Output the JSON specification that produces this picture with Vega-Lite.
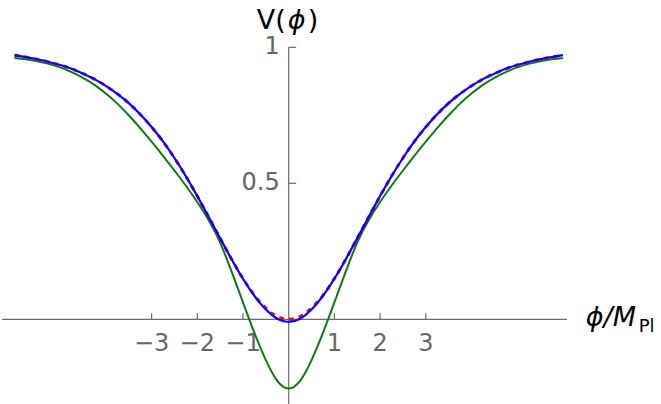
{
  "$schema": "https://vega.github.io/schema/vega-lite/v6.json",
  "width": 661,
  "height": 404,
  "autosize": {"type": "none"},
  "padding": 0,
  "background": "white",
  "config": {"view": {"stroke": null}, "text": {"font": "DejaVu Sans"}},
  "datasets": {
    "one": [{}],
    "curves": [
      {"p": -6, "v": 0.971, "s": "exact"}, {"p": -5.75, "v": 0.964, "s": "exact"}, {"p": -5.5, "v": 0.956, "s": "exact"}, {"p": -5.25, "v": 0.946, "s": "exact"}, {"p": -5, "v": 0.935, "s": "exact"}, {"p": -4.75, "v": 0.921, "s": "exact"}, {"p": -4.5, "v": 0.903, "s": "exact"}, {"p": -4.25, "v": 0.883, "s": "exact"}, {"p": -4, "v": 0.858, "s": "exact"}, {"p": -3.75, "v": 0.829, "s": "exact"}, {"p": -3.5, "v": 0.795, "s": "exact"}, {"p": -3.25, "v": 0.754, "s": "exact"}, {"p": -3, "v": 0.707, "s": "exact"}, {"p": -2.75, "v": 0.654, "s": "exact"}, {"p": -2.5, "v": 0.593, "s": "exact"}, {"p": -2.25, "v": 0.526, "s": "exact"}, {"p": -2, "v": 0.453, "s": "exact"}, {"p": -1.75, "v": 0.376, "s": "exact"}, {"p": -1.5, "v": 0.298, "s": "exact"}, {"p": -1.25, "v": 0.221, "s": "exact"}, {"p": -1, "v": 0.150, "s": "exact"}, {"p": -0.75, "v": 0.088, "s": "exact"}, {"p": -0.5, "v": 0.041, "s": "exact"}, {"p": -0.25, "v": 0.010, "s": "exact"}, {"p": 0, "v": 0.0, "s": "exact"},
      {"p": 0.25, "v": 0.010, "s": "exact"}, {"p": 0.5, "v": 0.041, "s": "exact"}, {"p": 0.75, "v": 0.088, "s": "exact"}, {"p": 1, "v": 0.150, "s": "exact"}, {"p": 1.25, "v": 0.221, "s": "exact"}, {"p": 1.5, "v": 0.298, "s": "exact"}, {"p": 1.75, "v": 0.376, "s": "exact"}, {"p": 2, "v": 0.453, "s": "exact"}, {"p": 2.25, "v": 0.526, "s": "exact"}, {"p": 2.5, "v": 0.593, "s": "exact"}, {"p": 2.75, "v": 0.654, "s": "exact"}, {"p": 3, "v": 0.707, "s": "exact"}, {"p": 3.25, "v": 0.754, "s": "exact"}, {"p": 3.5, "v": 0.795, "s": "exact"}, {"p": 3.75, "v": 0.829, "s": "exact"}, {"p": 4, "v": 0.858, "s": "exact"}, {"p": 4.25, "v": 0.883, "s": "exact"}, {"p": 4.5, "v": 0.903, "s": "exact"}, {"p": 4.75, "v": 0.921, "s": "exact"}, {"p": 5, "v": 0.935, "s": "exact"}, {"p": 5.25, "v": 0.946, "s": "exact"}, {"p": 5.5, "v": 0.956, "s": "exact"}, {"p": 5.75, "v": 0.964, "s": "exact"}, {"p": 6, "v": 0.971, "s": "exact"},

      {"p": -6, "v": 0.971, "s": "fit"}, {"p": -5.75, "v": 0.964, "s": "fit"}, {"p": -5.5, "v": 0.956, "s": "fit"}, {"p": -5.25, "v": 0.946, "s": "fit"}, {"p": -5, "v": 0.935, "s": "fit"}, {"p": -4.75, "v": 0.921, "s": "fit"}, {"p": -4.5, "v": 0.903, "s": "fit"}, {"p": -4.25, "v": 0.883, "s": "fit"}, {"p": -4, "v": 0.858, "s": "fit"}, {"p": -3.75, "v": 0.829, "s": "fit"}, {"p": -3.5, "v": 0.795, "s": "fit"}, {"p": -3.25, "v": 0.754, "s": "fit"}, {"p": -3, "v": 0.707, "s": "fit"}, {"p": -2.75, "v": 0.654, "s": "fit"}, {"p": -2.5, "v": 0.593, "s": "fit"}, {"p": -2.25, "v": 0.526, "s": "fit"}, {"p": -2, "v": 0.453, "s": "fit"}, {"p": -1.75, "v": 0.376, "s": "fit"}, {"p": -1.5, "v": 0.298, "s": "fit"}, {"p": -1.25, "v": 0.221, "s": "fit"}, {"p": -1, "v": 0.149, "s": "fit"}, {"p": -0.75, "v": 0.086, "s": "fit"}, {"p": -0.5, "v": 0.036, "s": "fit"}, {"p": -0.25, "v": 0.002, "s": "fit"}, {"p": 0, "v": -0.010, "s": "fit"},
      {"p": 0.25, "v": 0.002, "s": "fit"}, {"p": 0.5, "v": 0.036, "s": "fit"}, {"p": 0.75, "v": 0.086, "s": "fit"}, {"p": 1, "v": 0.149, "s": "fit"}, {"p": 1.25, "v": 0.221, "s": "fit"}, {"p": 1.5, "v": 0.298, "s": "fit"}, {"p": 1.75, "v": 0.376, "s": "fit"}, {"p": 2, "v": 0.453, "s": "fit"}, {"p": 2.25, "v": 0.526, "s": "fit"}, {"p": 2.5, "v": 0.593, "s": "fit"}, {"p": 2.75, "v": 0.654, "s": "fit"}, {"p": 3, "v": 0.707, "s": "fit"}, {"p": 3.25, "v": 0.754, "s": "fit"}, {"p": 3.5, "v": 0.795, "s": "fit"}, {"p": 3.75, "v": 0.829, "s": "fit"}, {"p": 4, "v": 0.858, "s": "fit"}, {"p": 4.25, "v": 0.883, "s": "fit"}, {"p": 4.5, "v": 0.903, "s": "fit"}, {"p": 4.75, "v": 0.921, "s": "fit"}, {"p": 5, "v": 0.935, "s": "fit"}, {"p": 5.25, "v": 0.946, "s": "fit"}, {"p": 5.5, "v": 0.956, "s": "fit"}, {"p": 5.75, "v": 0.964, "s": "fit"}, {"p": 6, "v": 0.971, "s": "fit"},

      {"p": -6, "v": 0.961, "s": "expansion"}, {"p": -5.75, "v": 0.956, "s": "expansion"}, {"p": -5.5, "v": 0.949, "s": "expansion"}, {"p": -5.25, "v": 0.939, "s": "expansion"}, {"p": -5, "v": 0.926, "s": "expansion"}, {"p": -4.75, "v": 0.909, "s": "expansion"}, {"p": -4.5, "v": 0.888, "s": "expansion"}, {"p": -4.25, "v": 0.862, "s": "expansion"}, {"p": -4, "v": 0.830, "s": "expansion"}, {"p": -3.75, "v": 0.793, "s": "expansion"}, {"p": -3.5, "v": 0.750, "s": "expansion"}, {"p": -3.25, "v": 0.703, "s": "expansion"}, {"p": -3, "v": 0.653, "s": "expansion"}, {"p": -2.75, "v": 0.601, "s": "expansion"}, {"p": -2.5, "v": 0.547, "s": "expansion"}, {"p": -2.25, "v": 0.491, "s": "expansion"}, {"p": -2, "v": 0.431, "s": "expansion"}, {"p": -1.75, "v": 0.364, "s": "expansion"}, {"p": -1.5, "v": 0.282, "s": "expansion"}, {"p": -1.25, "v": 0.176, "s": "expansion"}, {"p": -1, "v": 0.062, "s": "expansion"}, {"p": -0.75, "v": -0.050, "s": "expansion"}, {"p": -0.5, "v": -0.150, "s": "expansion"}, {"p": -0.25, "v": -0.226, "s": "expansion"}, {"p": 0, "v": -0.254, "s": "expansion"},
      {"p": 0.25, "v": -0.226, "s": "expansion"}, {"p": 0.5, "v": -0.150, "s": "expansion"}, {"p": 0.75, "v": -0.050, "s": "expansion"}, {"p": 1, "v": 0.062, "s": "expansion"}, {"p": 1.25, "v": 0.176, "s": "expansion"}, {"p": 1.5, "v": 0.282, "s": "expansion"}, {"p": 1.75, "v": 0.364, "s": "expansion"}, {"p": 2, "v": 0.431, "s": "expansion"}, {"p": 2.25, "v": 0.491, "s": "expansion"}, {"p": 2.5, "v": 0.547, "s": "expansion"}, {"p": 2.75, "v": 0.601, "s": "expansion"}, {"p": 3, "v": 0.653, "s": "expansion"}, {"p": 3.25, "v": 0.703, "s": "expansion"}, {"p": 3.5, "v": 0.750, "s": "expansion"}, {"p": 3.75, "v": 0.793, "s": "expansion"}, {"p": 4, "v": 0.830, "s": "expansion"}, {"p": 4.25, "v": 0.862, "s": "expansion"}, {"p": 4.5, "v": 0.888, "s": "expansion"}, {"p": 4.75, "v": 0.909, "s": "expansion"}, {"p": 5, "v": 0.926, "s": "expansion"}, {"p": 5.25, "v": 0.939, "s": "expansion"}, {"p": 5.5, "v": 0.949, "s": "expansion"}, {"p": 5.75, "v": 0.956, "s": "expansion"}, {"p": 6, "v": 0.961, "s": "expansion"}
    ],
    "xticks": [
      {"t": -3, "label": "−3"}, {"t": -2, "label": "−2"}, {"t": -1, "label": "−1"},
      {"t": 1, "label": "1"}, {"t": 2, "label": "2"}, {"t": 3, "label": "3"}
    ],
    "yticks": [{"t": 0.5, "label": "0.5"}, {"t": 1, "label": "1"}]
  },
  "layer": [
    {
      "data": {"name": "one"},
      "mark": {"type": "rule", "color": "#6b6b6b", "strokeWidth": 1.2},
      "encoding": {
        "x": {"datum": -6.27, "type": "quantitative", "scale": {"domain": [-6.317, 8.147], "nice": false, "zero": false}, "axis": null},
        "x2": {"datum": 6.09},
        "y": {"datum": 0, "type": "quantitative", "scale": {"domain": [-0.3114, 1.1739], "nice": false, "zero": false}, "axis": null}
      }
    },
    {
      "data": {"name": "one"},
      "mark": {"type": "rule", "color": "#6b6b6b", "strokeWidth": 1.2},
      "encoding": {
        "x": {"datum": 0, "type": "quantitative", "scale": {"domain": [-6.317, 8.147], "nice": false, "zero": false}, "axis": null},
        "y": {"datum": -0.32, "type": "quantitative", "scale": {"domain": [-0.3114, 1.1739], "nice": false, "zero": false}, "axis": null},
        "y2": {"datum": 1.0}
      }
    },
    {
      "data": {"name": "xticks"},
      "mark": {"type": "rule", "color": "#6b6b6b", "strokeWidth": 1.2},
      "encoding": {
        "x": {"field": "t", "type": "quantitative", "scale": {"domain": [-6.317, 8.147], "nice": false, "zero": false}, "axis": null},
        "y": {"datum": 0, "type": "quantitative", "scale": {"domain": [-0.3114, 1.1739], "nice": false, "zero": false}, "axis": null},
        "y2": {"datum": 0.022}
      }
    },
    {
      "data": {"name": "xticks"},
      "mark": {"type": "text", "color": "#666666", "fontSize": 24, "align": "center", "baseline": "alphabetic", "dy": 32},
      "encoding": {
        "x": {"field": "t", "type": "quantitative", "scale": {"domain": [-6.317, 8.147], "nice": false, "zero": false}, "axis": null},
        "y": {"datum": 0, "type": "quantitative", "scale": {"domain": [-0.3114, 1.1739], "nice": false, "zero": false}, "axis": null},
        "text": {"field": "label"}
      }
    },
    {
      "data": {"name": "yticks"},
      "mark": {"type": "rule", "color": "#6b6b6b", "strokeWidth": 1.2},
      "encoding": {
        "x": {"datum": 0, "type": "quantitative", "scale": {"domain": [-6.317, 8.147], "nice": false, "zero": false}, "axis": null},
        "x2": {"datum": 0.165},
        "y": {"field": "t", "type": "quantitative", "scale": {"domain": [-0.3114, 1.1739], "nice": false, "zero": false}, "axis": null}
      }
    },
    {
      "data": {"name": "yticks"},
      "mark": {"type": "text", "color": "#666666", "fontSize": 24, "align": "right", "baseline": "middle", "dx": -9},
      "encoding": {
        "x": {"datum": 0, "type": "quantitative", "scale": {"domain": [-6.317, 8.147], "nice": false, "zero": false}, "axis": null},
        "y": {"field": "t", "type": "quantitative", "scale": {"domain": [-0.3114, 1.1739], "nice": false, "zero": false}, "axis": null},
        "text": {"field": "label"}
      }
    },
    {
      "data": {"name": "curves"},
      "transform": [{"filter": "datum.s === 'expansion'"}],
      "mark": {"type": "line", "color": "#0f7a0f", "strokeWidth": 2, "interpolate": "natural"},
      "encoding": {
        "x": {"field": "p", "type": "quantitative", "scale": {"domain": [-6.317, 8.147], "nice": false, "zero": false}, "axis": null},
        "y": {"field": "v", "type": "quantitative", "scale": {"domain": [-0.3114, 1.1739], "nice": false, "zero": false}, "axis": null}
      }
    },
    {
      "data": {"name": "curves"},
      "transform": [{"filter": "datum.s === 'exact'"}],
      "mark": {"type": "line", "color": "#ff0000", "strokeWidth": 3, "strokeDash": [5, 5], "interpolate": "natural"},
      "encoding": {
        "x": {"field": "p", "type": "quantitative", "scale": {"domain": [-6.317, 8.147], "nice": false, "zero": false}, "axis": null},
        "y": {"field": "v", "type": "quantitative", "scale": {"domain": [-0.3114, 1.1739], "nice": false, "zero": false}, "axis": null}
      }
    },
    {
      "data": {"name": "curves"},
      "transform": [{"filter": "datum.s === 'fit'"}],
      "mark": {"type": "line", "color": "#0000ff", "strokeWidth": 2.2, "interpolate": "natural"},
      "encoding": {
        "x": {"field": "p", "type": "quantitative", "scale": {"domain": [-6.317, 8.147], "nice": false, "zero": false}, "axis": null},
        "y": {"field": "v", "type": "quantitative", "scale": {"domain": [-0.3114, 1.1739], "nice": false, "zero": false}, "axis": null}
      }
    },
    {
      "data": {"name": "one"},
      "mark": {"type": "text", "color": "#000000", "fontSize": 27, "align": "right", "baseline": "alphabetic", "dx": -3, "text": "V("},
      "encoding": {
        "x": {"datum": 0, "type": "quantitative", "scale": {"domain": [-6.317, 8.147], "nice": false, "zero": false}, "axis": null},
        "y": {"datum": 1.069, "type": "quantitative", "scale": {"domain": [-0.3114, 1.1739], "nice": false, "zero": false}, "axis": null}
      }
    },
    {
      "data": {"name": "one"},
      "mark": {"type": "text", "color": "#000000", "fontSize": 27, "fontStyle": "italic", "align": "center", "baseline": "alphabetic", "dx": 8, "text": "ϕ"},
      "encoding": {
        "x": {"datum": 0, "type": "quantitative", "scale": {"domain": [-6.317, 8.147], "nice": false, "zero": false}, "axis": null},
        "y": {"datum": 1.069, "type": "quantitative", "scale": {"domain": [-0.3114, 1.1739], "nice": false, "zero": false}, "axis": null}
      }
    },
    {
      "data": {"name": "one"},
      "mark": {"type": "text", "color": "#000000", "fontSize": 27, "align": "left", "baseline": "alphabetic", "dx": 19, "text": ")"},
      "encoding": {
        "x": {"datum": 0, "type": "quantitative", "scale": {"domain": [-6.317, 8.147], "nice": false, "zero": false}, "axis": null},
        "y": {"datum": 1.069, "type": "quantitative", "scale": {"domain": [-0.3114, 1.1739], "nice": false, "zero": false}, "axis": null}
      }
    },
    {
      "data": {"name": "one"},
      "mark": {"type": "text", "color": "#000000", "fontSize": 27, "fontStyle": "italic", "align": "left", "baseline": "alphabetic", "dy": 7, "text": "ϕ/M"},
      "encoding": {
        "x": {"datum": 6.5, "type": "quantitative", "scale": {"domain": [-6.317, 8.147], "nice": false, "zero": false}, "axis": null},
        "y": {"datum": 0, "type": "quantitative", "scale": {"domain": [-0.3114, 1.1739], "nice": false, "zero": false}, "axis": null}
      }
    },
    {
      "data": {"name": "one"},
      "mark": {"type": "text", "color": "#000000", "fontSize": 18, "align": "left", "baseline": "alphabetic", "dx": 53, "dy": 13, "text": "Pl"},
      "encoding": {
        "x": {"datum": 6.5, "type": "quantitative", "scale": {"domain": [-6.317, 8.147], "nice": false, "zero": false}, "axis": null},
        "y": {"datum": 0, "type": "quantitative", "scale": {"domain": [-0.3114, 1.1739], "nice": false, "zero": false}, "axis": null}
      }
    }
  ]
}
